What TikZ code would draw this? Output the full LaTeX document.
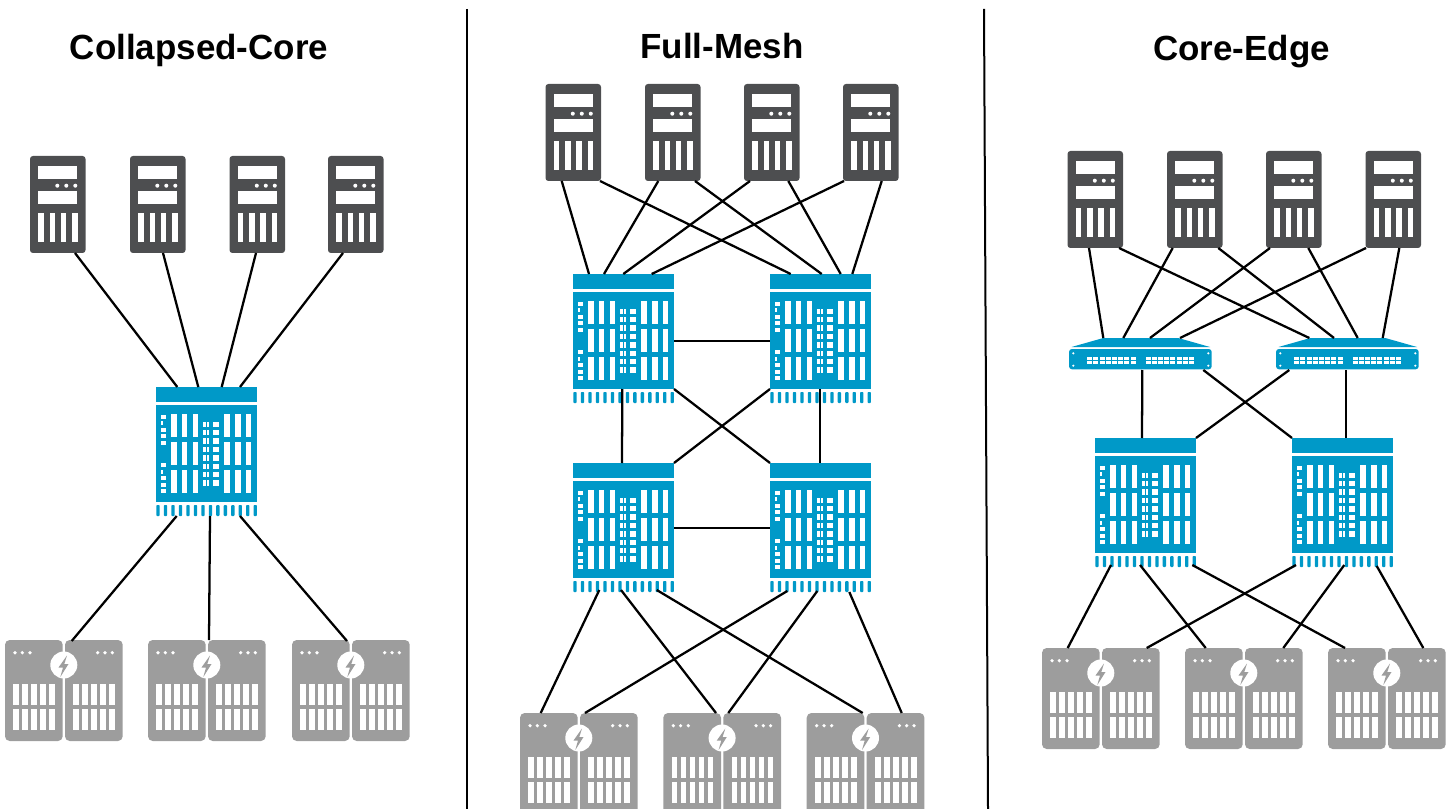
\documentclass[tikz,border=0pt]{standalone}
\usepackage{fontspec}
\setmainfont{Liberation Sans}
\definecolor{srvdark}{HTML}{4D4E50}
\definecolor{netblue}{HTML}{0099C8}
\definecolor{storgrey}{HTML}{9D9D9D}
\tikzset{
  devnode/.style={inner sep=0pt,outer sep=0pt,anchor=north west,minimum width=#1},
  srvnode/.style={devnode=41.625pt,minimum height=72.75pt},
  chasnode/.style={devnode=75.75pt,minimum height=96.75pt},
  stornode/.style={devnode=88.3pt,minimum height=75.75pt},
  swnode/.style={devnode=107.25pt,minimum height=23.5pt},
  link/.style={draw=black,line width=1.7pt},
  divider/.style={draw=black,line width=1.5pt},
  heading/.style={inner sep=0pt,anchor=base,font=\fontsize{26.2pt}{30pt}\selectfont\bfseries}
}
\newcommand{\serverIcon}[3]{%
  \node[srvnode] (#1) at (#2,#3) {};
  \begin{scope}[shift={(#2,#3)}]
    \fill[srvdark,rounded corners=2.2pt] (0,0) rectangle (55.5,97);
    \fill[white] (8.3,10) rectangle (47.3,23);
    \fill[white] (8.3,35) rectangle (47.3,48);
    \foreach \d in {27.3,36.3,45.3}{\fill[white] (\d,29.7) circle[radius=2];}
    \foreach \d in {8.3,19.5,30.8,42.2}{\fill[white] (\d,56.7) rectangle ++(5.6,29.8);}
  \end{scope}}
\newcommand{\chassisIcon}[3]{%
  \node[chasnode] (#1) at (#2,#3) {};
  \begin{scope}[shift={(#2,#3)}]
    \fill[netblue] (0,0) rectangle (101,14.5);
    \fill[netblue] (0,18) rectangle (101,115.3);
    \foreach \k in {0,...,13}{\fill[netblue,rounded corners=0.6pt] ({0.4+\k*7.48},118) rectangle ++(3.3,11);}
    \foreach \r in {27.3,55.3,83.3}{
      \foreach \c in {15,25.7,36.7,68.3,79,89.7}{\fill[white] (\c,\r) rectangle ++(5.6,22.7);}}
    \foreach \r in {34.7,43,51.3,59.7,68.3,76.7,84.7,93.3}{
      \foreach \c in {47.3,57}{
        \fill[white] (\c,\r) rectangle ++(2.7,5.3);
        \fill[white] ({\c+3.4},\r) rectangle ++(2.7,5.3);}}
    \foreach \r in {28,33.7,40.7,47.3,53.7,76,82.7,89,95.7,102}{\fill[white] (5.3,\r) rectangle ++(4.7,4);}
    \fill[netblue] (7.2,33) rectangle (10.5,38.2);
    \fill[netblue] (7.2,81.5) rectangle (10.5,87.2);
  \end{scope}}
\newcommand{\storageIcon}[3]{%
  \node[stornode] (#1) at (#2,#3) {};
  \begin{scope}[shift={(#2,#3)}]
    \fill[storgrey,rounded corners=3.5pt] (0,0) rectangle (57.7,101);
    \fill[storgrey,rounded corners=3.5pt] (60,0) rectangle (117.7,101);
    \foreach \d in {10,17.3,25,92.7,100,107.3}{\fill[white] (\d,12.7) circle[radius=1.8];}
    \foreach \c in {8.3,17.3,26.3,35.3,44.3,68.3,77.3,86.3,95.3,104.3}{
      \fill[white] (\c,44) rectangle ++(5.6,21);
      \fill[white] (\c,69.3) rectangle ++(5.6,20.7);}
    \fill[white] (58.8,25) circle[radius=13.5];
    \fill[storgrey] (62,15.5) -- (53.5,27.5) -- (58,27.5) -- (55.3,37) -- (63.5,24) -- (59.3,24) -- cycle;
  \end{scope}}
\newcommand{\switchIcon}[3]{%
  \node[swnode] (#1) at (#2,#3) {};
  \begin{scope}[shift={(#2,#3)}]
    \fill[netblue] (34.3,0) -- (109.3,0) -- (141,9) -- (2.5,9) -- cycle;
    \fill[netblue,rounded corners=2.2pt] (0,11) rectangle (142.7,31.3);
    \foreach \b in {18.3,76.7}{\foreach \k in {0,...,7}{
      \fill[white] ({\b+\k*6.17},18.7) rectangle ++(5,3);
      \fill[white] ({\b+\k*6.17},22.7) rectangle ++(5,3);}}
    \foreach \a in {4.3,139.3}{\foreach \e in {15.3,27.7}{\fill[white] (\a,\e) circle[radius=1.2];}}
  \end{scope}}
\newcommand{\lk}[6]{\draw[link] ([shift={(#2,#3)}]#1.north west) -- ([shift={(#5,#6)}]#4.north west);}
\begin{document}
\begin{tikzpicture}[x=0.75pt,y=-0.75pt]
\useasboundingbox (0,0) rectangle (1452,809);
% dividers
\coordinate (d1a) at (467,9); \coordinate (d1b) at (467,809);
\coordinate (d2a) at (984,9); \coordinate (d2b) at (988,809);
\draw[divider] (d1a) -- (d1b);
\draw[divider] (d2a) -- (d2b);
% headings
\node[heading] (t1) at (199,60) {Collapsed-Core};
\node[heading] (t2) at (722,59) {Full-Mesh};
\node[heading] (t3) at (1241.5,61) {Core-Edge};
% Collapsed-Core
\serverIcon{as}{30}{156}\serverIcon{bs}{130}{156}\serverIcon{cs}{229.5}{156}\serverIcon{ds}{328}{156}
\chassisIcon{ach}{156}{387}
\storageIcon{ast}{5}{640}\storageIcon{bst}{148}{640}\storageIcon{cst}{292}{640}
\lk{as}{45}{97}{ach}{21.3}{0}
\lk{bs}{33}{97}{ach}{42.3}{0}
\lk{cs}{26.5}{97}{ach}{65.7}{0}
\lk{ds}{15}{97}{ach}{84}{0}
\lk{ach}{20.7}{129}{ast}{66.7}{1}
\lk{ach}{54}{129}{bst}{61}{0}
\lk{ach}{84}{129}{cst}{55}{1}
% Full-Mesh
\serverIcon{es}{545.5}{84}\serverIcon{fs}{645}{84}\serverIcon{gs}{744}{84}\serverIcon{hs}{843}{84}
\chassisIcon{mA}{573}{274}\chassisIcon{mB}{770}{274}\chassisIcon{mC}{573}{463}\chassisIcon{mD}{770}{463}
\storageIcon{est}{520}{713}\storageIcon{fst}{663.3}{713}\storageIcon{gst}{806.7}{713}
\lk{es}{16.2}{97}{mA}{16}{0}
\lk{es}{54.5}{97}{mB}{20.7}{0}
\lk{fs}{13.3}{97}{mA}{31}{0}
\lk{fs}{50}{97}{mB}{51.7}{0}
\lk{gs}{6}{97}{mA}{50.3}{0}
\lk{gs}{44.3}{97}{mB}{70.7}{0}
\lk{hs}{1}{97}{mA}{78.7}{0}
\lk{hs}{38.7}{97}{mB}{82.3}{0}
\lk{mA}{49.3}{115}{mC}{49}{0}
\lk{mB}{50}{115}{mD}{50}{0}
\lk{mA}{101}{115}{mD}{0}{0}
\lk{mB}{0}{115}{mC}{101}{0}
\lk{mA}{101}{67}{mB}{0}{67}
\lk{mC}{101}{65}{mD}{0}{65}
\lk{mC}{26.3}{127}{est}{20.7}{0}
\lk{mC}{48}{127}{fst}{52.7}{0}
\lk{mC}{83.7}{127}{gst}{56}{0}
\lk{mD}{17.3}{128}{est}{65}{0}
\lk{mD}{47.3}{128}{fst}{65}{0}
\lk{mD}{79.3}{129}{gst}{95}{0}
% Core-Edge
\serverIcon{is}{1067.5}{151}\serverIcon{js}{1167}{151}\serverIcon{ks}{1266}{151}\serverIcon{ls}{1365.5}{151}
\switchIcon{swA}{1069}{338}\switchIcon{swB}{1276}{338}
\chassisIcon{cE}{1095}{438}\chassisIcon{cF}{1292}{438}
\storageIcon{ist}{1042}{648}\storageIcon{jst}{1185}{648}\storageIcon{kst}{1328}{648}
\lk{is}{21.5}{97}{swA}{34.3}{0}
\lk{is}{51.5}{97}{swB}{33.3}{0}
\lk{js}{5.7}{97}{swA}{54.3}{0}
\lk{js}{51.3}{97}{swB}{58}{0}
\lk{ks}{4}{97}{swA}{81}{0}
\lk{ks}{42.3}{97}{swB}{81.7}{0}
\lk{ls}{0.5}{97}{swA}{111}{0}
\lk{ls}{33.8}{97}{swB}{106.7}{0}
\lk{swA}{73.3}{32}{cE}{47}{0}
\lk{swB}{70}{32}{cF}{54}{0}
\lk{swA}{134.3}{32}{cF}{0}{0}
\lk{swB}{13.3}{32}{cE}{101}{0}
\lk{cE}{16}{127}{ist}{25.7}{0}
\lk{cE}{45}{127}{jst}{20.7}{0}
\lk{cE}{97.3}{127}{kst}{17}{0}
\lk{cF}{4}{127}{ist}{104.7}{0}
\lk{cF}{52.3}{127}{jst}{98.3}{0}
\lk{cF}{84.7}{128}{kst}{95.3}{0}
\end{tikzpicture}
\end{document}
